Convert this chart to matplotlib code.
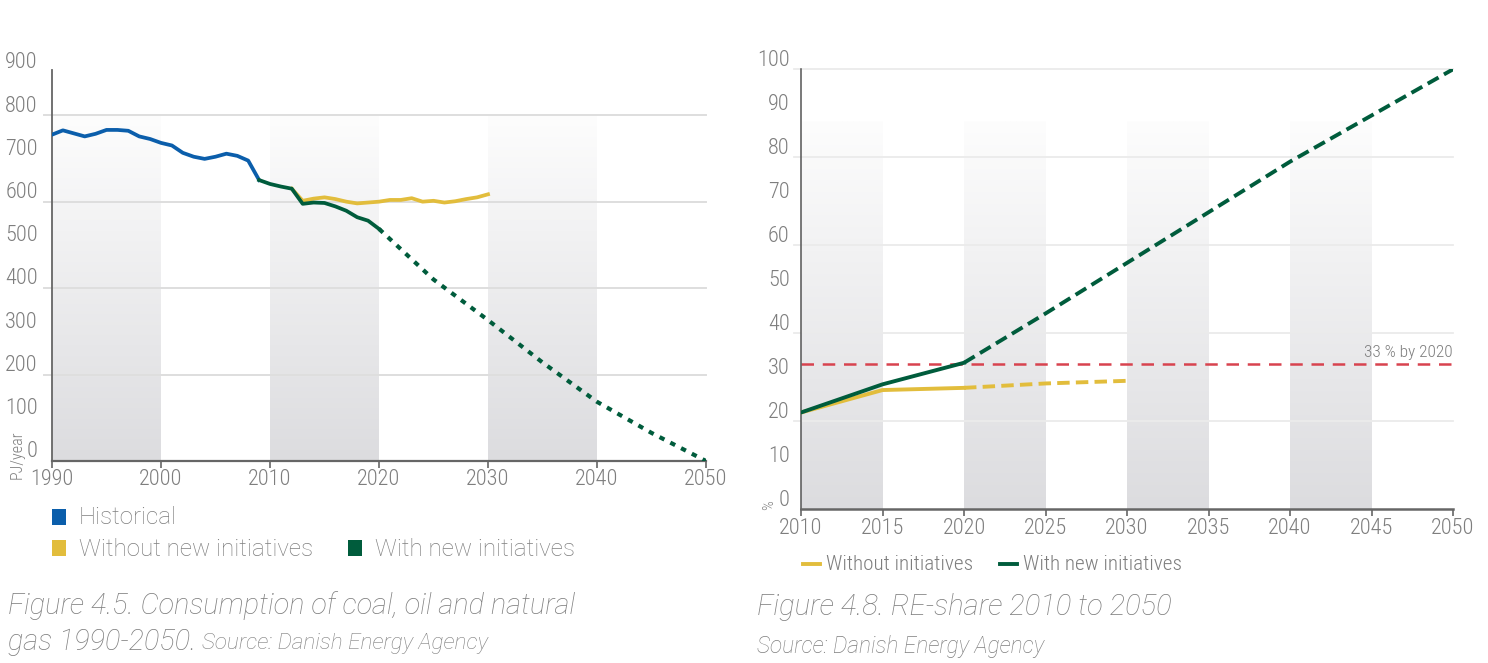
import numpy as np
import matplotlib
matplotlib.use("Agg")
import matplotlib.pyplot as plt
from matplotlib import font_manager as fm
from matplotlib.colors import LinearSegmentedColormap
from matplotlib.patches import Rectangle
from matplotlib.lines import Line2D

# ---------------- data ----------------
hist_years = list(range(1990, 2010))
hist_vals = [755, 765, 758, 751, 757, 766, 766, 764, 751, 745,
             736, 730, 713, 704, 699, 704, 711, 706, 695, 650]

green_years = list(range(2009, 2021))
green_vals = [650, 641, 635, 630, 595, 598, 597, 589, 579, 564, 556, 537]

yellow_years = list(range(2012, 2031))
yellow_vals = [630, 602, 607, 610, 606, 600, 596, 598, 600, 604,
               604, 608, 600, 602, 598, 601, 606, 610, 617]

green_proj_years = [2020, 2025, 2030, 2035, 2040, 2045, 2050]
green_proj_vals = [537, 420, 326, 228, 137, 65, 0]

left_xticks = [1990, 2000, 2010, 2020, 2030, 2040, 2050]
left_yticks = [0, 100, 200, 300, 400, 500, 600, 700, 800, 900]
left_grid = [200, 400, 600, 800]
left_bands = [(1990, 2000), (2010, 2020), (2030, 2040)]

re_years = [2010, 2015, 2020]
re_with = [22.0, 28.4, 33.3]
re_without = [22.0, 27.1, 27.6]
re_with_proj_years = [2020, 2025, 2030, 2035, 2040, 2045, 2050]
re_with_proj = [33.3, 44.5, 56.0, 67.5, 79.0, 89.5, 100.0]
re_without_proj_years = [2020, 2025, 2030]
re_without_proj = [27.6, 28.6, 29.2]
target = 33

right_xticks = [2010, 2015, 2020, 2025, 2030, 2035, 2040, 2045, 2050]
right_yticks = [0, 10, 20, 30, 40, 50, 60, 70, 80, 90, 100]
right_grid = [20, 40, 60, 80, 100]
right_bands = [(2010, 2015), (2020, 2025), (2030, 2035), (2040, 2045)]

# ---------------- style ----------------
BLUE = "#0b5eab"
YELLOW = "#e2bd3c"
GREEN = "#005c3c"
RED = "#d8434f"
TXT = "#7e7e7e"
SPINE = "#666666"

names = {f.name for f in fm.fontManager.ttflist}
if "Roboto Condensed" in names:
    COND = dict(family="Roboto Condensed", weight="light")
elif "Liberation Sans Narrow" in names:
    COND = dict(family="Liberation Sans Narrow")
else:
    COND = dict(family="DejaVu Sans", stretch="condensed")
WIDE = dict(family="Roboto", weight="light")
CAP = dict(family="Roboto", weight="light", style="italic")

fig = plt.figure(figsize=(14.88, 6.63), dpi=100)
W, H = 1488.0, 663.0


def fx(px):
    return px / W


def fy(py):
    return 1 - py / H


band_cmap = LinearSegmentedColormap.from_list("band", ["#fdfdfd", "#dcdcdf"])
grad = np.linspace(0, 1, 256).reshape(-1, 1)


def add_bands(ax, bands, top):
    for x0, x1 in bands:
        ax.imshow(grad, cmap=band_cmap, extent=(x0, x1, 0, top), origin="upper",
                  aspect="auto", zorder=0, interpolation="bilinear")


# ---------------- left chart ----------------
axL = fig.add_axes([52 / W, 1 - 461 / H, 654 / W, 389 / H])
add_bands(axL, left_bands, 800)
axL.set_xlim(1990, 2050)
axL.set_ylim(0, 900)
for g in left_grid:
    axL.plot([1989.3, 2050], [g, g], color="#dedede", lw=1.4, zorder=1, clip_on=False)

axL.plot(hist_years, hist_vals, color=BLUE, lw=2.7, zorder=4, solid_joinstyle="round")
axL.plot(yellow_years, yellow_vals, color=YELLOW, lw=2.7, zorder=3, solid_joinstyle="round")
axL.plot(green_years, green_vals, color=GREEN, lw=2.7, zorder=4, solid_joinstyle="round")
axL.plot(green_proj_years, green_proj_vals, color=GREEN, lw=3.0, zorder=4,
         linestyle=(0, (1.3, 1.6)), dash_capstyle="butt")

for s in ["top", "right"]:
    axL.spines[s].set_visible(False)
axL.spines["left"].set_color(SPINE)
axL.spines["left"].set_linewidth(1.3)
axL.spines["left"].set_bounds(0, 905)
axL.spines["bottom"].set_color(SPINE)
axL.spines["bottom"].set_linewidth(1.6)
axL.set_yticks([])
axL.set_xticks(left_xticks)
axL.set_xticklabels([str(t) for t in left_xticks], color=TXT, fontsize=16, **COND)
axL.tick_params(axis="x", length=5, width=1.2, color=SPINE, pad=1)
for t in left_yticks:
    axL.text(1988.7, t - 3, str(t), ha="right", va="bottom", color=TXT, fontsize=16, **COND)
axL.text(-35 / 654, 6 / 389, "PJ/year", transform=axL.transAxes, rotation=90,
         ha="center", va="center", color=TXT, fontsize=11.5, **COND)

# left legend
for (x, y, c, lab) in [(52, 517, BLUE, "Historical"),
                       (52, 548, YELLOW, "Without new initiatives"),
                       (348, 548, GREEN, "With new initiatives")]:
    fig.patches.append(Rectangle((fx(x), fy(y + 8)), 14 / W, 16 / H, transform=fig.transFigure,
                                 facecolor=c, edgecolor="none"))
    fig.text(fx(x + 27), fy(y + 1), lab, ha="left", va="center", color=TXT, fontsize=17.4, **WIDE)

fig.text(fx(8), fy(606), "Figure 4.5. Consumption of coal, oil and natural", ha="left",
         va="center", color=TXT, fontsize=20.8, **CAP)
t1 = fig.text(fx(8), fy(642), "gas 1990-2050.", ha="left", va="center", color=TXT,
              fontsize=20.8, **CAP)
fig.canvas.draw()
bb = t1.get_window_extent()
fig.text((bb.x1 + 6) / W, fy(643), "Source: Danish Energy Agency", ha="left", va="center",
         color=TXT, fontsize=16.2, **CAP)

# ---------------- right chart ----------------
axR = fig.add_axes([801 / W, 1 - 509.3 / H, 652 / W, 440 / H])
add_bands(axR, right_bands, 88)
axR.set_xlim(2010, 2050)
axR.set_ylim(0, 100)
for g in right_grid:
    axR.plot([2009.6, 2050], [g, g], color="#ebebeb", lw=1.3, zorder=1, clip_on=False)

axR.axhline(target, color=RED, lw=1.8, linestyle=(0, (5, 3.5)), zorder=2)
axR.text(2050, target + 0.9, "33 % by 2020", ha="right", va="bottom", color=TXT,
         fontsize=12.5, **COND)

axR.plot(re_years, re_without, color=YELLOW, lw=2.8, zorder=3)
axR.plot(re_without_proj_years, re_without_proj, color=YELLOW, lw=2.8, zorder=3,
         linestyle=(0, (3.2, 1.6)))
axR.plot(re_years, re_with, color=GREEN, lw=2.8, zorder=4)
axR.plot(re_with_proj_years, re_with_proj, color=GREEN, lw=2.8, zorder=4,
         linestyle=(0, (3.2, 1.6)))

for s in ["top", "right"]:
    axR.spines[s].set_visible(False)
axR.spines["left"].set_color("#555555")
axR.spines["left"].set_linewidth(1.1)
axR.spines["bottom"].set_color(SPINE)
axR.spines["bottom"].set_linewidth(1.8)
axR.set_yticks([])
axR.set_xticks(right_xticks)
axR.set_xticklabels([str(t) for t in right_xticks], color=TXT, fontsize=16, **COND)
axR.tick_params(axis="x", length=5, width=1.2, color=SPINE, pad=1.5)
for t in right_yticks:
    axR.text(2009.3, t - 0.4, str(t), ha="right", va="bottom", color=TXT, fontsize=16, **COND)
axR.text(-32 / 652, 4.5 / 440, "%", transform=axR.transAxes, rotation=90, ha="center",
         va="center", color=TXT, fontsize=11, **COND)

# right legend
for (x, c, lab) in [(803, YELLOW, "Without initiatives"), (1000, GREEN, "With new initiatives")]:
    fig.add_artist(Line2D([fx(x), fx(x + 17)], [fy(564), fy(564)], transform=fig.transFigure,
                          color=c, lw=2.8))
    fig.text(fx(x + 23), fy(564), lab, ha="left", va="center", color=TXT, fontsize=15.3, **COND)

fig.text(fx(757), fy(607), "Figure 4.8. RE-share 2010 to 2050", ha="left", va="center",
         color=TXT, fontsize=21.1, **CAP)
fig.text(fx(757), fy(647), "Source: Danish Energy Agency", ha="left", va="center",
         color=TXT, fontsize=16.3, **CAP)

fig.savefig("out.png", dpi=100, facecolor="white")
